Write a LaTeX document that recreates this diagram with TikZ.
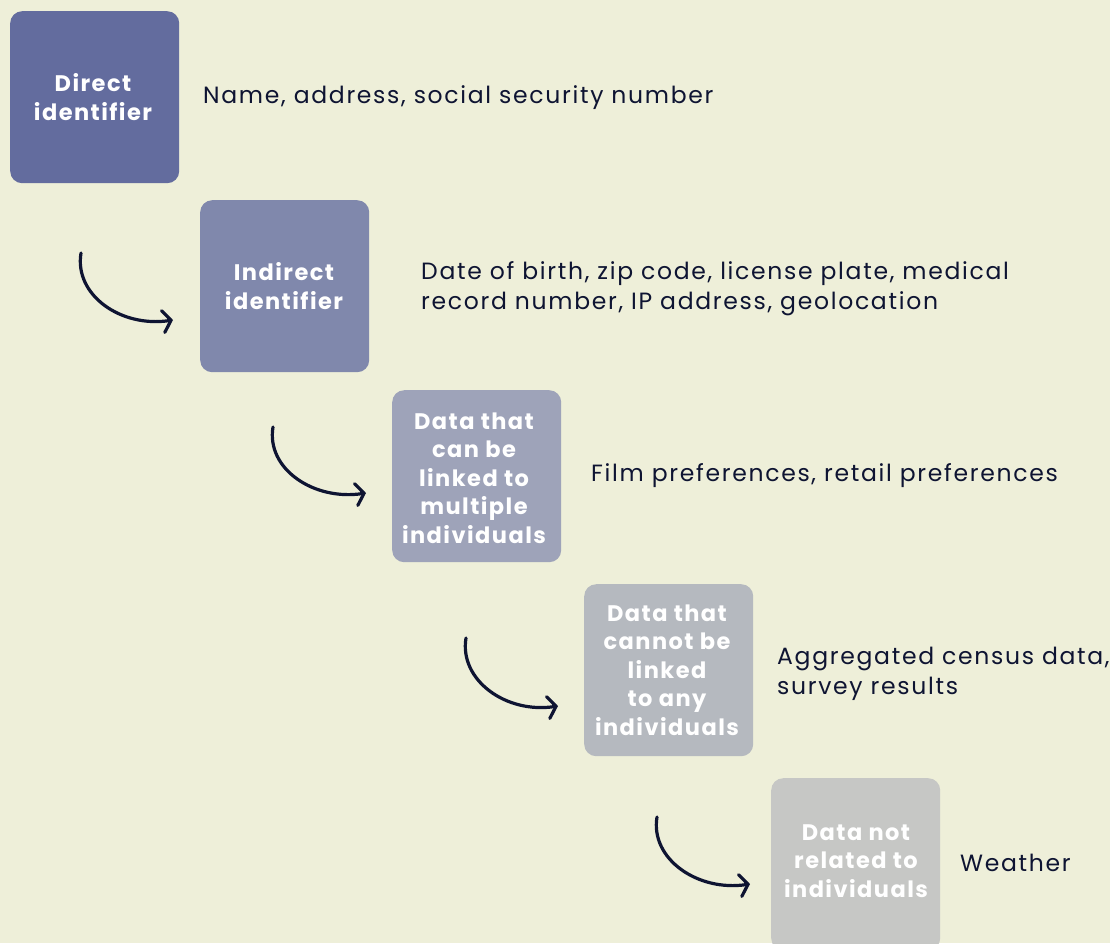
\documentclass[tikz,border=0pt]{standalone}
\usepackage{fontspec}
\setmainfont{Poppins}
\newfontfamily\boxfont[LetterSpace=6.5]{Poppins}
\newfontfamily\descfont[LetterSpace=7.2]{Poppins}
\usetikzlibrary{arrows.meta}
\definecolor{bg}{HTML}{EEEFD9}
\definecolor{navy}{HTML}{0E1432}
\definecolor{c1}{HTML}{636C9E}
\definecolor{c2}{HTML}{8088AC}
\definecolor{c3}{HTML}{9EA3B9}
\definecolor{c4}{HTML}{B5B9BF}
\definecolor{c5}{HTML}{C6C7C5}
\tikzset{
  card/.style={rounded corners=12pt, minimum width=169pt, minimum height=172pt, anchor=north west, inner sep=0pt},
  cardtext/.style={text=white, align=center, font=\boxfont\bfseries\fontsize{22.5}{28.6}\selectfont},
  desc/.style={text=navy, anchor=west, align=left, inner sep=0pt, font=\descfont\fontsize{23.5}{30}\selectfont},
  curvearrow/.style={draw=navy, line width=3.2pt, line cap=round, -{Straight Barb[length=8pt,width=22pt,line cap=round]}}
}
\begin{document}
\begin{tikzpicture}[x=1pt,y=-1pt]
\useasboundingbox (0,0) rectangle (1110,943);
\clip (0,0) rectangle (1110,943);
\fill[bg] (0,0) rectangle (1110,943);
% boxes
\node[card, fill=c1] (b1) at (10,11) {};
\node[card, fill=c2] (b2) at (200,200) {};
\node[card, fill=c3] (b3) at (392,390) {};
\node[card, fill=c4] (b4) at (584,584) {};
\node[card, fill=c5] (b5) at (771,778) {};
% box texts
\node[cardtext] (t1) at (93,97) {Direct\\identifier};
\node[cardtext] (t2) at (284,286) {Indirect\\identifier};
\node[cardtext] (t3) at (474,478) {Data that\\can be\\linked to\\multiple\\individuals};
\node[cardtext] (t4) at (667,670) {Data that\\cannot be\\linked\\to any\\individuals};
\node[cardtext] (t5) at (856,861) {Data not\\related to\\individuals};
% descriptions
\node[desc] (d1) at (203,98) {Name, address, social security number};
\node[desc] (d2) at (421,289) {Date of birth, zip code, license plate, medical\\record number, IP address, geolocation};
\node[desc] (d3) at (591,476) {Film preferences, retail preferences};
\node[desc] (d4) at (777,674) {Aggregated census data,\\survey results};
\node[desc] (d5) at (960,863) {Weather};
% arrows
\coordinate (s2) at ([shift={(-119,53)}]b2.north west);
\coordinate (e2) at ([shift={(-27,120)}]b2.north west);
\coordinate (s3) at ([shift={(-119,37)}]b3.north west);
\coordinate (e3) at ([shift={(-26,103)}]b3.north west);
\coordinate (s4) at ([shift={(-118,54)}]b4.north west);
\coordinate (e4) at ([shift={(-26,122)}]b4.north west);
\coordinate (s5) at ([shift={(-114,39)}]b5.north west);
\coordinate (e5) at ([shift={(-21,106)}]b5.north west);
\foreach \i in {2,3,4,5}{
  \draw[curvearrow] (s\i) .. controls ([shift={(-7,42)}]s\i) and ([shift={(-52,8)}]e\i) .. (e\i);
}
\end{tikzpicture}
\end{document}
